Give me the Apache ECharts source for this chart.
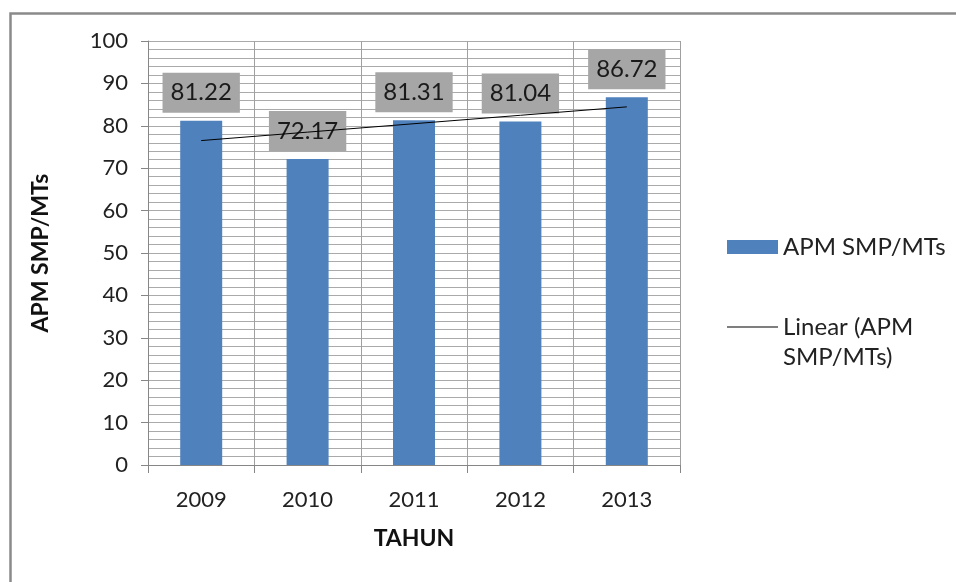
<!DOCTYPE html>
<html>
<head>
<meta charset="utf-8">
<script src="https://cdn.jsdelivr.net/npm/echarts@6/dist/echarts.min.js"></script>
<style>html,body{margin:0;padding:0;background:#fff}#c{width:956px;height:582px}</style>
</head>
<body>
<div id="c"></div>
<script>
const categories = ['2009', '2010', '2011', '2012', '2013'];
const apmValues = [81.22, 72.17, 81.31, 81.04, 86.72];
const barName = 'APM SMP/MTs';
const trendName = 'Linear (APM\nSMP/MTs)';

// Linear (least-squares) trend of the bar values, as in the original chart
const n = apmValues.length;
const xs = apmValues.map((_, i) => i + 1);
const mx = xs.reduce((a, b) => a + b, 0) / n;
const my = apmValues.reduce((a, b) => a + b, 0) / n;
let sxy = 0, sxx = 0;
for (let i = 0; i < n; i++) { sxy += (xs[i] - mx) * (apmValues[i] - my); sxx += (xs[i] - mx) * (xs[i] - mx); }
const slope = sxy / sxx;
const trendValues = xs.map(x => +(my + slope * (x - mx)).toFixed(3));

const FONT = 'Lato, "Open Sans", sans-serif';
const chart = echarts.init(document.getElementById('c'));
chart.setOption({
  animation: false,
  backgroundColor: '#fff',
  textStyle: { fontFamily: FONT, color: '#222' },
  graphic: [{
    type: 'rect', left: 8, top: 11, silent: true, z: -1,
    shape: { x: 0, y: 0, width: 1200, height: 1200 },
    style: { fill: 'none', stroke: '#8a8a8a', lineWidth: 2.5 }
  }],
  grid: { left: 148, right: 276, top: 41, bottom: 117, containLabel: false },
  legend: [{
    data: [{ name: barName, icon: 'rect' }], orient: 'vertical', left: 722, top: 230,
    itemWidth: 51, itemHeight: 14,
    textStyle: { fontFamily: FONT, fontSize: 24, color: '#222' }
  }, {
    data: [{ name: trendName, icon: 'rect', itemStyle: { color: '#000' } }],
    orient: 'vertical', left: 722, top: 277,
    itemWidth: 51, itemHeight: 1,
    formatter: name => ' \n' + name,
    textStyle: { fontFamily: FONT, fontSize: 24, color: '#222', lineHeight: 30 }
  }],
  xAxis: {
    type: 'category', data: categories, boundaryGap: true,
    name: 'TAHUN', nameLocation: 'middle', nameGap: 62,
    nameTextStyle: { fontFamily: FONT, fontSize: 23, fontWeight: 'bold', color: '#111' },
    axisLine: { lineStyle: { color: '#868686', width: 1 } },
    axisTick: { show: true, length: 8, alignWithLabel: false, lineStyle: { color: '#868686' } },
    axisLabel: { fontFamily: FONT, fontSize: 22, color: '#222', margin: 24 },
    splitLine: { show: true, lineStyle: { color: '#a0a0a0', width: 1 } }
  },
  yAxis: {
    type: 'value', min: 0, max: 100, interval: 10,
    name: 'APM SMP/MTs', nameLocation: 'middle', nameGap: 96, nameRotate: 90,
    nameTextStyle: { fontFamily: FONT, fontSize: 23, fontWeight: 'bold', color: '#111' },
    axisLine: { show: true, lineStyle: { color: '#868686', width: 1 } },
    axisTick: { show: true, length: 7, lineStyle: { color: '#868686' } },
    axisLabel: { fontFamily: FONT, fontSize: 22, color: '#222', margin: 20 },
    splitLine: { show: true, lineStyle: { color: '#aaaaaa', width: 1 } },
    minorTick: { show: false, splitNumber: 5 },
    minorSplitLine: { show: true, lineStyle: { color: '#aaaaaa', width: 1 } }
  },
  series: [{
    name: barName, type: 'bar', data: apmValues, barWidth: 42, z: 2,
    itemStyle: { color: '#4f81bd' },
    label: {
      show: true, position: 'top', distance: 8,
      formatter: p => p.value.toFixed(2),
      fontFamily: FONT, fontSize: 24, color: '#1a1a1a',
      backgroundColor: '#a6a6a6', padding: [7, 8], lineHeight: 26
    }
  }, {
    name: trendName, type: 'line', data: trendValues, z: 10,
    symbol: 'none', showSymbol: false,
    lineStyle: { color: '#000', width: 1 },
    itemStyle: { color: '#000' }
  }]
});
</script>
</body>
</html>
